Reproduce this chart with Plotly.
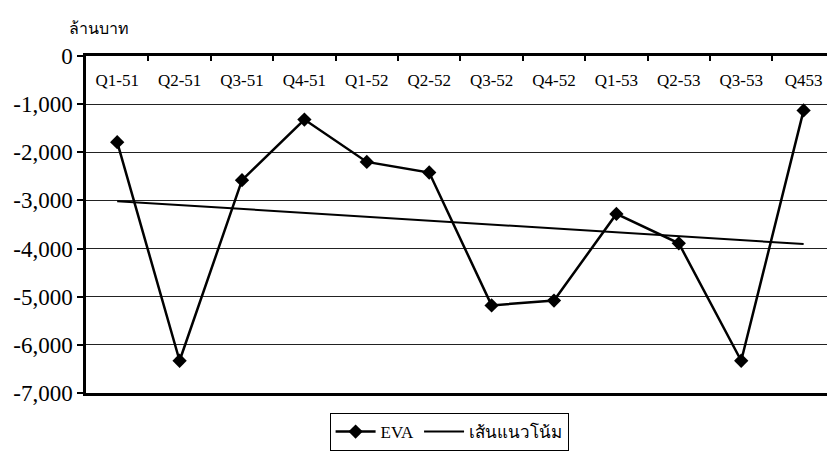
import numpy as np
import plotly.graph_objects as go

quarters = ["Q1-51", "Q2-51", "Q3-51", "Q4-51", "Q1-52", "Q2-52",
            "Q3-52", "Q4-52", "Q1-53", "Q2-53", "Q3-53", "Q453"]
eva = [-1790, -6330, -2580, -1320, -2200, -2420,
       -5180, -5080, -3280, -3890, -6330, -1130]
y_ticks = [0, -1000, -2000, -3000, -4000, -5000, -6000, -7000]
y_tick_text = ["0", "-1,000", "-2,000", "-3,000", "-4,000", "-5,000", "-6,000", "-7,000"]

# linear trend fitted over the quarter index
idx = np.arange(len(eva))
slope, intercept = np.polyfit(idx, eva, 1)
trend = slope * idx + intercept
boundaries = [i - 0.5 for i in range(len(quarters) + 1)]
x_range = [-0.5, 11.375]

serif = "Liberation Serif, Times New Roman, serif"

fig = go.Figure()
fig.add_trace(go.Scatter(
    x=idx, y=eva, name="EVA", mode="lines+markers",
    line=dict(color="black", width=2.5),
    marker=dict(symbol="diamond", size=11, color="black"),
))
fig.add_trace(go.Scatter(
    x=idx, y=trend, name="เส้นแนวโน้ม", mode="lines",
    line=dict(color="black", width=2),
))
# carrier for the top axis (zero line with quarter-boundary ticks)
fig.add_trace(go.Scatter(
    x=idx, y=eva, xaxis="x2", mode="lines", opacity=0,
    showlegend=False, hoverinfo="skip",
))

fig.update_layout(
    width=827, height=451,
    margin=dict(l=86, r=0, t=56, b=56),
    paper_bgcolor="white", plot_bgcolor="white",
    font=dict(family=serif, color="black"),
    showlegend=True,
    legend=dict(
        orientation="h", x=0.49, xanchor="center", y=-0.06, yanchor="top",
        bordercolor="black", borderwidth=1, bgcolor="white",
        font=dict(size=17, family=serif), itemwidth=40,
    ),
    annotations=[dict(
        text="ล้านบาท", xref="paper", yref="paper", x=-0.025, y=1.05,
        xanchor="left", yanchor="bottom", showarrow=False,
        font=dict(size=16, family=serif),
    )],
    # quarter labels, hanging just under the zero line
    xaxis=dict(
        range=x_range, anchor="free", position=0.964, side="bottom",
        tickvals=list(idx), ticktext=quarters, ticks="",
        showline=False, showgrid=False, zeroline=False, automargin=False,
        tickfont=dict(size=17, family=serif),
    ),
    # zero line on top (mirrored at -7,000) with ticks between the quarters
    xaxis2=dict(
        range=x_range, overlaying="x", anchor="y", side="top",
        tickvals=boundaries, showticklabels=False,
        ticks="inside", ticklen=5, tickwidth=2, tickcolor="black",
        showline=True, linecolor="black", linewidth=2.5, mirror=True,
        showgrid=False, zeroline=False, automargin=False,
    ),
    yaxis=dict(
        range=[-7000, 0], tickvals=y_ticks, ticktext=y_tick_text,
        ticks="outside", ticklen=6, tickwidth=2, tickcolor="black",
        showline=True, linecolor="black", linewidth=2.5,
        showgrid=True, gridcolor="#222", gridwidth=1, zeroline=False,
        automargin=False, tickfont=dict(size=23, family=serif),
    ),
)

fig.write_html("out.html")
